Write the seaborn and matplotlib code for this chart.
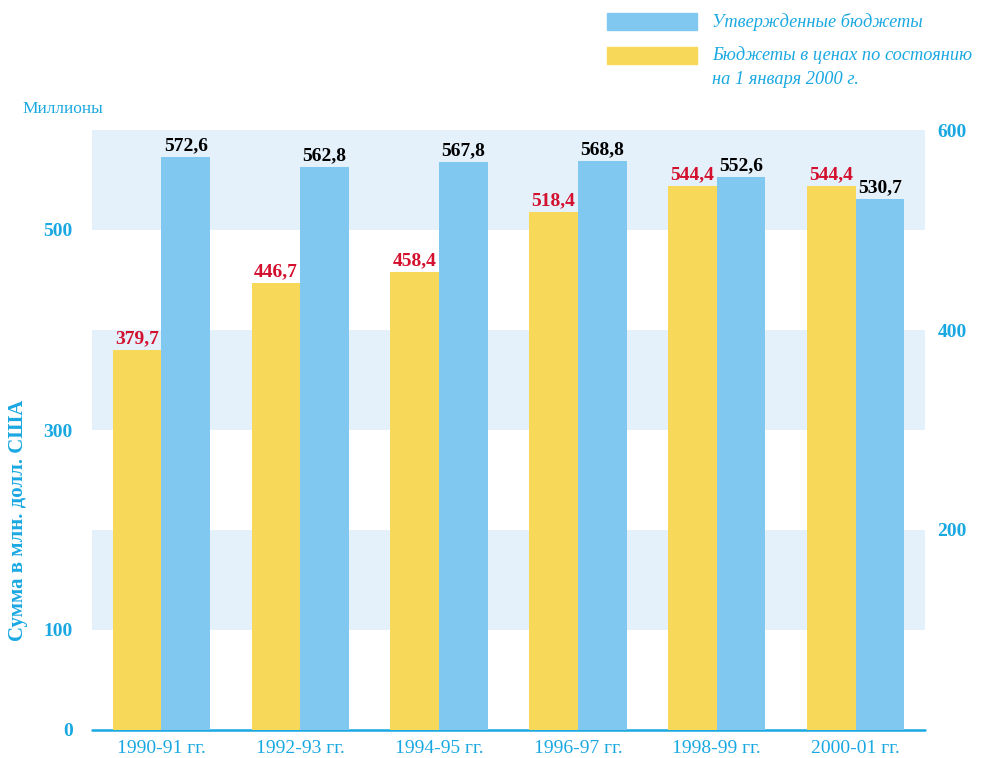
import pandas as pd
import numpy as np
import matplotlib
matplotlib.use("Agg")
import matplotlib.pyplot as plt
import seaborn as sns
from matplotlib.patches import Rectangle

periods = ["1990-91 гг.", "1992-93 гг.", "1994-95 гг.", "1996-97 гг.", "1998-99 гг.", "2000-01 гг."]
approved = [572.6, 562.8, 567.8, 568.8, 552.6, 530.7]
prices2000 = [379.7, 446.7, 458.4, 518.4, 544.4, 544.4]
series_names = ["Бюджеты в ценах по состоянию\nна 1 января 2000 г.", "Утвержденные бюджеты"]

left_ticks = [0, 100, 300, 500]
right_ticks = [200, 400, 600]
bands = [(100, 200), (300, 400), (500, 600)]

blue = "#80C8F0"
yellow = "#F7D858"
band = "#E4F1FB"
cyan = "#1AA8E2"
red = "#D3102E"

df = pd.DataFrame({
    "period": periods * 2,
    "value": prices2000 + approved,
    "series": [series_names[0]] * 6 + [series_names[1]] * 6,
})

sns.set_style("white")
plt.rcParams["font.family"] = ["Liberation Serif", "DejaVu Serif"]

fig = plt.figure(figsize=(9.82, 7.58), dpi=100)
ax = fig.add_axes([92 / 982, 28 / 758, 833 / 982, 600 / 758])

for lo, hi in bands:
    ax.axhspan(lo, hi, color=band, zorder=0, lw=0)

sns.barplot(data=df, x="period", y="value", hue="series", palette=[yellow, blue],
            width=0.7, dodge=True, saturation=1, legend=False, ax=ax, zorder=2,
            linewidth=0, edgecolor="none")
ax.axhline(0, color=cyan, lw=1.8, zorder=1.5, clip_on=False)

for cont, col in zip(ax.containers, [red, "black"]):
    labels = [f"{v:.1f}".replace(".", ",") for v in cont.datavalues]
    ax.bar_label(cont, labels=labels, padding=2, color=col, fontsize=14,
                 fontweight="bold")

ax.set_xlim(-0.5, 5.5)
ax.set_ylim(0, 600)
ax.set_xlabel("")
ax.set_ylabel("")
ax.set_yticks(left_ticks)
ax.tick_params(axis="y", length=0, pad=14, labelsize=14, labelcolor=cyan)
ax.tick_params(axis="x", length=0, pad=7, labelsize=14, labelcolor=cyan)
for t in ax.get_yticklabels():
    t.set_fontweight("bold")
sns.despine(ax=ax, left=True, bottom=True)

ax2 = ax.twinx()
ax2.set_ylim(0, 600)
ax2.set_yticks(right_ticks)
ax2.tick_params(axis="y", length=0, pad=9, labelsize=14, labelcolor=cyan)
for t in ax2.get_yticklabels():
    t.set_fontweight("bold")
for s in ax2.spines.values():
    s.set_visible(False)

fig.text(18 / 982, 1 - 520 / 758, "Сумма в млн. долл. США", rotation=90, ha="center",
         va="center", color=cyan, fontsize=15, fontweight="bold")
fig.text(22 / 982, 1 - 109 / 758, "Миллионы", ha="left", va="center", color=cyan,
         fontsize=12.5)

# legend
fig.patches.append(Rectangle((607 / 982, 1 - 30 / 758), 90 / 982, 17 / 758,
                             transform=fig.transFigure, color=blue))
fig.patches.append(Rectangle((607 / 982, 1 - 64 / 758), 90 / 982, 17 / 758,
                             transform=fig.transFigure, color=yellow))
fig.text(712 / 982, 1 - 22 / 758, series_names[1], ha="left", va="center",
         color=cyan, fontsize=13.2, style="italic")
fig.text(712 / 982, 1 - 55 / 758, "Бюджеты в ценах по состоянию", ha="left",
         va="center", color=cyan, fontsize=13.2, style="italic")
fig.text(712 / 982, 1 - 79 / 758, "на 1 января 2000 г.", ha="left", va="center",
         color=cyan, fontsize=13.2, style="italic")

fig.savefig("out.png", dpi=100)
